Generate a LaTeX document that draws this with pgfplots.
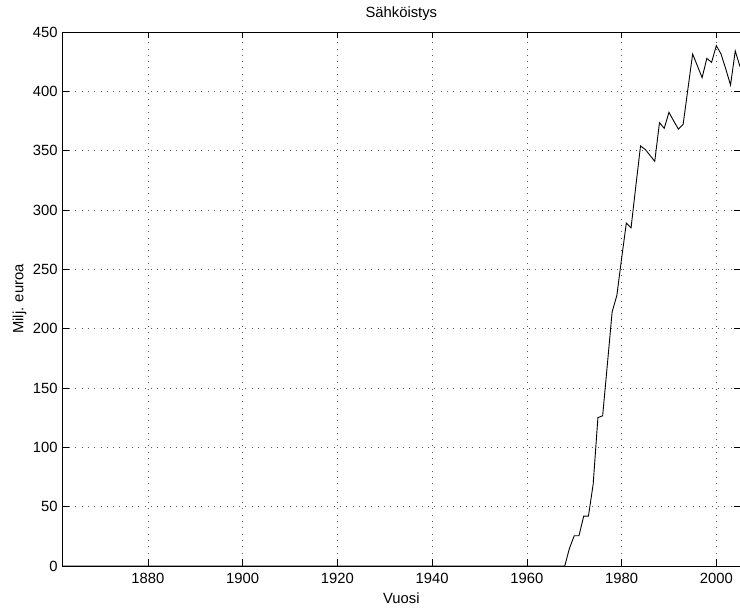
\documentclass[border=0pt]{standalone}
\usepackage{pgfplots}
\pgfplotsset{compat=1.18}
\usepackage{fontspec}
\setmainfont{Liberation Sans}
\begin{document}
\fontsize{14.8}{17.8}\selectfont
\begin{tikzpicture}
\useasboundingbox (0pt,0pt) rectangle (740pt,609pt);
\begin{axis}[
  at={(62.7pt,43pt)}, anchor=south west,
  scale only axis, width=677.3pt, height=534pt,
  xmin=1862, xmax=2005, ymin=0, ymax=450,
  xtick={1880,1900,1920,1940,1960,1980,2000},
  ytick={0,50,100,150,200,250,300,350,400,450},
  /pgf/number format/1000 sep={},
  /pgf/number format/assume math mode=true,
  tick align=inside,
  major tick length=6.5pt,
  tick style={black, line width=0.7pt},
  axis line style={black, line width=0.9pt},
  grid=major,
  major grid style={black!65, line width=0.7pt, dash pattern=on 0.8pt off 5.5pt},
  title={Sähköistys},
  xlabel={Vuosi},
  ylabel={Milj. euroa},
  title style={at={([yshift=8pt]axis description cs:0.5,1)}, anchor=base},
  xlabel style={at={([yshift=-37.5pt]axis description cs:0.5,0)}, anchor=base},
  ylabel style={at={([xshift=-39.2pt]axis description cs:0,0.5)}, anchor=base, rotate=0},
  xticklabel style={yshift=-2pt},
  clip=true,
]
\addplot[black, line width=0.9pt] coordinates {
(1862,0) (1900,0) (1940,0) (1968,0)
(1969,15) (1970,25.5) (1971,25.5) (1972,42) (1973,42) (1974,69)
(1975,125) (1976,126.6) (1977,170) (1978,214) (1979,228)
(1980,259) (1981,289) (1982,285) (1983,320) (1984,354)
(1985,351) (1986,346) (1987,341) (1988,373.6) (1989,368.8)
(1990,382.3) (1991,375) (1992,368.2) (1993,372.2) (1994,402)
(1995,431.4) (1996,421.5) (1997,411.5) (1998,427.8) (1999,424.4)
(2000,438.5) (2001,431.4) (2002,418.8) (2003,405.3) (2004,434)
(2005,420.8)
};
\end{axis}
\end{tikzpicture}
\end{document}
